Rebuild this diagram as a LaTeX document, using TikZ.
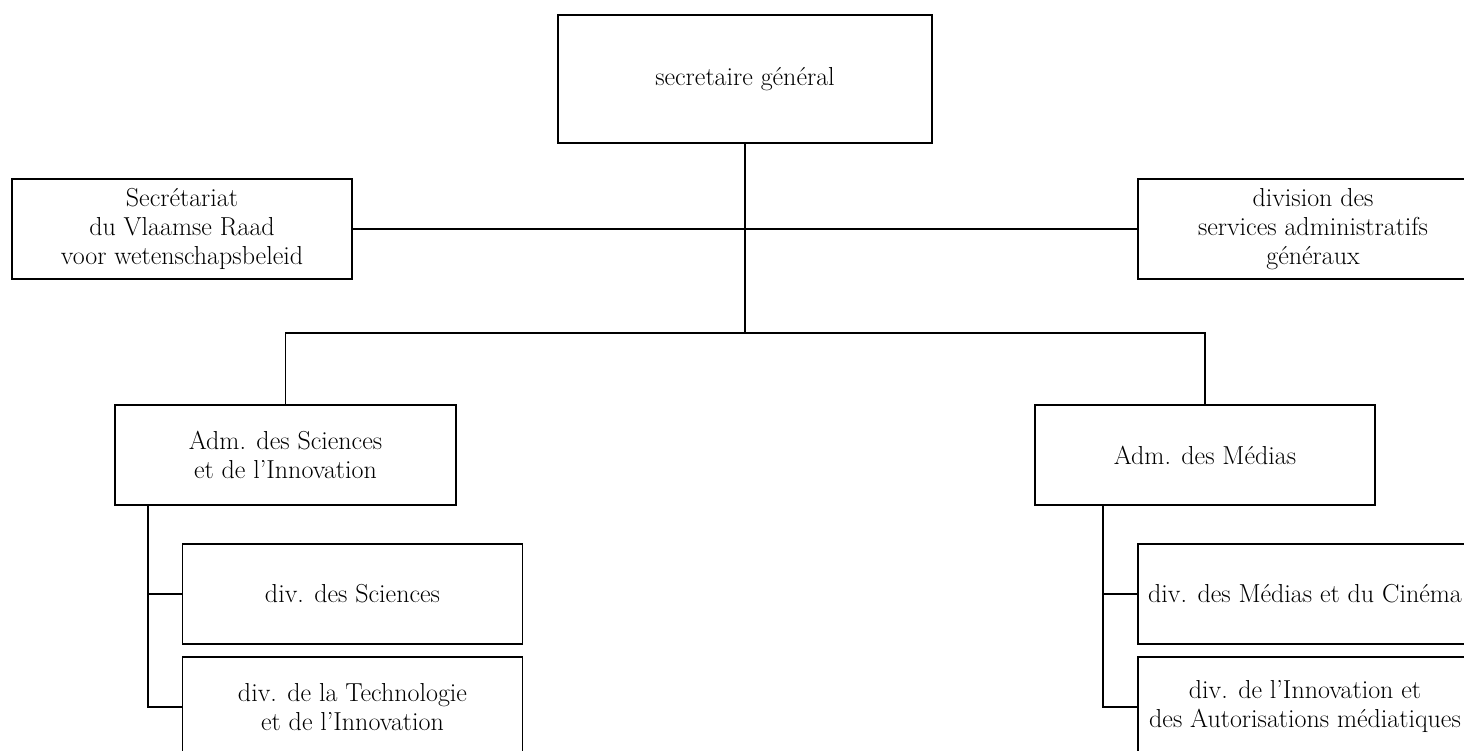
\documentclass[tikz,border=0pt]{standalone}
\usepackage{tikz}
\begin{document}
\begin{tikzpicture}[x=1pt,y=-1pt,
  box/.style={draw=black,line width=1.5pt,inner sep=0pt,align=center,
    minimum height=100pt,font=\fontsize{26}{29}\selectfont},
  conn/.style={draw=black,line width=1.5pt}]
\clip (0,0) rectangle (1464,751);
\node[box,minimum width=374pt,minimum height=128pt] (sg) at (745,79) {secretaire général};
\node[box,minimum width=340pt] (sec) at (182,229) {Secrétariat\\du Vlaamse Raad\\voor wetenschapsbeleid};
\node[box,minimum width=350pt] (dsa) at (1313,229) {division des\\services administratifs\\généraux};
\node[box,minimum width=341pt] (asi) at (285.5,455) {Adm. des Sciences\\et de l’Innovation};
\node[box,minimum width=340pt] (ame) at (1205,455) {Adm. des Médias};
\node[box,minimum width=340pt] (dsc) at (352.5,594) {div. des Sciences};
\node[box,minimum width=340pt] (dte) at (352.5,707) {div. de la Technologie\\et de l’Innovation};
\node[box,minimum width=334pt] (dmc) at (1305,594) {div. des Médias et du Cinéma};
\node[box,minimum width=334pt] (dia) at (1305,707) {div. de l’Innovation et\\des Autorisations médiatiques};
\coordinate (j) at (745,333);
\coordinate (lb) at (148,0);
\coordinate (rb) at (1103,0);
\draw[conn] (sg.south) -- (j);
\draw[conn] (sec.east) -- (dsa.west);
\draw[conn] (asi.north) -- (asi.north |- j) -- (ame.north |- j) -- (ame.north);
\draw[conn] (asi.south -| lb) |- (dsc.west);
\draw[conn] (asi.south -| lb) |- (dte.west);
\draw[conn] (ame.south -| rb) |- (dmc.west);
\draw[conn] (ame.south -| rb) |- (dia.west);
\end{tikzpicture}
\end{document}
